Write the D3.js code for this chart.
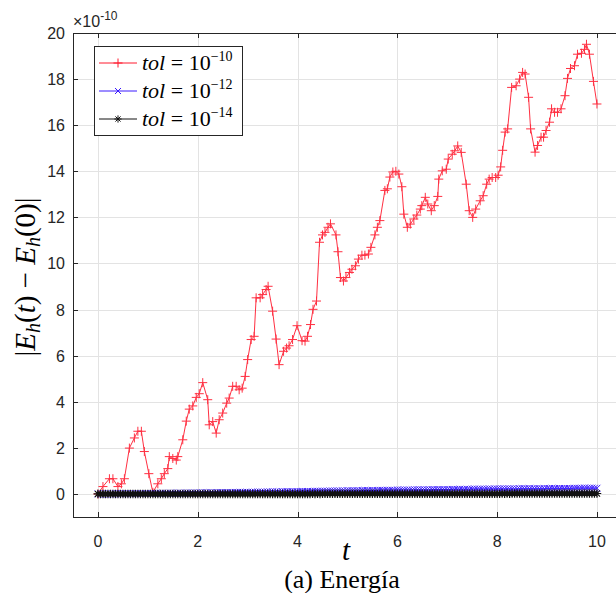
<!DOCTYPE html>
<html>
<head>
<meta charset="utf-8">
<script src="https://cdn.jsdelivr.net/npm/d3@7/dist/d3.min.js"></script>
<style>
  html, body { margin: 0; padding: 0; background: #fff; }
  svg { display: block; }
</style>
</head>
<body>
<div id="chart"></div>
<script>
// ---------------- DATA (values in units of 1e-10) ----------------
const xTicks = [0, 2, 4, 6, 8, 10];
const yTicks = [0, 2, 4, 6, 8, 10, 12, 14, 16, 18, 20];
const seriesNames = ["10^{-10}", "10^{-12}", "10^{-14}"];

// tol = 1e-10 (red, '+')
const tRed = [0,0.10,0.23,0.30,0.40,0.47,0.53,0.63,0.73,0.80,0.87,0.93,1.02,1.10,1.20,1.27,1.33,1.40,1.43,1.50,1.57,1.60,1.70,1.77,1.83,1.90,1.97,2.03,2.10,2.20,2.23,2.30,2.37,2.43,2.50,2.58,2.63,2.70,2.77,2.83,2.89,2.95,3.00,3.07,3.13,3.17,3.25,3.30,3.37,3.41,3.50,3.57,3.63,3.72,3.78,3.83,3.90,3.99,4.09,4.15,4.20,4.26,4.31,4.38,4.44,4.50,4.55,4.61,4.66,4.77,4.81,4.86,4.92,4.97,5.04,5.09,5.16,5.22,5.29,5.35,5.42,5.47,5.55,5.60,5.65,5.75,5.80,5.85,5.91,5.97,6.03,6.09,6.13,6.20,6.26,6.33,6.39,6.46,6.49,6.56,6.61,6.68,6.74,6.81,6.83,6.90,6.98,7.02,7.10,7.15,7.21,7.28,7.38,7.44,7.51,7.57,7.66,7.72,7.79,7.84,7.90,7.97,8.02,8.07,8.11,8.16,8.21,8.29,8.38,8.45,8.51,8.56,8.63,8.67,8.76,8.81,8.88,8.93,8.98,9.05,9.09,9.15,9.21,9.28,9.36,9.41,9.47,9.55,9.61,9.69,9.75,9.79,9.85,9.93,10.0];
const vRed = [0,0.32,0.66,0.66,0.32,0.44,0.66,1.99,2.43,2.72,2.72,1.84,0.88,0.07,0.44,0.66,0.88,1.10,1.62,1.54,1.47,1.62,2.35,3.16,3.68,3.82,4.19,4.35,4.83,4.09,3.00,3.14,2.64,3.22,3.51,3.94,4.16,4.67,4.67,4.52,4.59,5.10,5.83,6.70,6.84,8.51,8.51,8.65,8.87,9.01,7.93,6.72,5.61,6.19,6.33,6.43,6.70,7.30,6.65,6.63,6.84,7.35,8.01,8.37,10.92,11.24,11.35,11.57,11.72,11.24,10.51,9.39,9.24,9.39,9.61,9.75,9.90,10.19,10.36,10.36,10.41,10.70,11.24,11.57,11.86,13.17,13.24,13.75,13.97,14.00,13.88,13.33,12.14,11.57,11.71,11.93,12.10,12.36,12.51,12.87,12.58,12.29,12.51,12.91,13.66,14.02,14.09,14.53,14.74,14.89,15.10,14.82,13.44,12.29,12.00,12.36,12.72,12.94,13.44,13.66,13.73,13.73,13.83,14.19,14.91,15.70,15.84,17.64,17.71,18.00,18.29,18.22,17.21,15.84,14.83,15.12,15.48,15.48,15.77,16.13,16.71,16.56,16.56,16.71,17.28,18.03,18.46,18.58,19.08,19.12,19.29,19.51,19.08,17.90,16.92];

// time steps shared by tol = 1e-12 and tol = 1e-14
const tDense = [0,0.05,0.1,0.15,0.2,0.25,0.3,0.35,0.4,0.45,0.5,0.55,0.6,0.65,0.7,0.75,0.8,0.85,0.9,0.95,
1,1.05,1.1,1.15,1.2,1.25,1.3,1.35,1.4,1.45,1.5,1.55,1.6,1.65,1.7,1.75,1.8,1.85,1.9,1.95,
2,2.05,2.1,2.15,2.2,2.25,2.3,2.35,2.4,2.45,2.5,2.55,2.6,2.65,2.7,2.75,2.8,2.85,2.9,2.95,
3,3.05,3.1,3.15,3.2,3.25,3.3,3.35,3.4,3.45,3.5,3.55,3.6,3.65,3.7,3.75,3.8,3.85,3.9,3.95,
4,4.05,4.1,4.15,4.2,4.25,4.3,4.35,4.4,4.45,4.5,4.55,4.6,4.65,4.7,4.75,4.8,4.85,4.9,4.95,
5,5.05,5.1,5.15,5.2,5.25,5.3,5.35,5.4,5.45,5.5,5.55,5.6,5.65,5.7,5.75,5.8,5.85,5.9,5.95,
6,6.05,6.1,6.15,6.2,6.25,6.3,6.35,6.4,6.45,6.5,6.55,6.6,6.65,6.7,6.75,6.8,6.85,6.9,6.95,
7,7.05,7.1,7.15,7.2,7.25,7.3,7.35,7.4,7.45,7.5,7.55,7.6,7.65,7.7,7.75,7.8,7.85,7.9,7.95,
8,8.05,8.1,8.15,8.2,8.25,8.3,8.35,8.4,8.45,8.5,8.55,8.6,8.65,8.7,8.75,8.8,8.85,8.9,8.95,
9,9.05,9.1,9.15,9.2,9.25,9.3,9.35,9.4,9.45,9.5,9.55,9.6,9.65,9.7,9.75,9.8,9.85,9.9,9.95,10];

// tol = 1e-12 (blue, 'x')
const vBlue = [0,0,0,0,0,0,0,0.01,0.01,0.01,0.01,0.01,0.01,0.01,0.01,0.01,0.02,0.01,0.02,0.02,
0.02,0.02,0.02,0.02,0.02,0.03,0.03,0.03,0.03,0.03,0.03,0.03,0.03,0.04,0.03,0.04,0.04,0.04,0.04,0.04,
0.04,0.05,0.05,0.05,0.05,0.05,0.05,0.05,0.06,0.06,0.06,0.06,0.06,0.06,0.06,0.07,0.07,0.07,0.07,0.07,
0.07,0.07,0.08,0.08,0.08,0.08,0.08,0.08,0.09,0.09,0.09,0.09,0.09,0.09,0.10,0.10,0.10,0.10,0.10,0.10,
0.10,0.11,0.11,0.11,0.11,0.11,0.11,0.12,0.12,0.12,0.12,0.12,0.12,0.13,0.13,0.13,0.13,0.13,0.13,0.13,
0.14,0.14,0.14,0.14,0.14,0.14,0.15,0.15,0.15,0.15,0.15,0.15,0.15,0.16,0.16,0.16,0.16,0.16,0.16,0.16,
0.17,0.17,0.17,0.17,0.17,0.17,0.17,0.18,0.18,0.18,0.18,0.18,0.18,0.18,0.19,0.19,0.19,0.19,0.19,0.19,
0.19,0.19,0.20,0.20,0.20,0.20,0.20,0.20,0.20,0.20,0.21,0.21,0.21,0.21,0.21,0.21,0.21,0.21,0.21,0.22,
0.22,0.22,0.22,0.22,0.22,0.22,0.22,0.22,0.22,0.23,0.23,0.23,0.23,0.23,0.23,0.23,0.23,0.23,0.23,0.23,
0.24,0.24,0.24,0.24,0.24,0.24,0.24,0.24,0.24,0.24,0.24,0.25,0.25,0.25,0.25,0.25,0.25,0.25,0.25,0.25,0.25];

// tol = 1e-14 (black, '*')
const vBlack = [0,0,0,0,0,0,0,0,0,0,0,0,0,0,0,0,0,0,0,0,
0,0,0,0,0,0,0,0,0,0,0,0,0,0,0,0,0,0,0,0,
0,0,0,0,0,0,0,0,0,0,0,0,0,0,0,0,0,0,0,0,
0,0,0,0,0,0,0,0,0,0,0,0,0,0,0,0,0,0,0,0,
0,0,0,0,0,0,0.01,0,0.01,0,0.01,0.01,0.01,0.01,0.01,0.01,0.01,0.01,0.01,0.01,
0.01,0.01,0.01,0.01,0.01,0.01,0.01,0.01,0.01,0.01,0.01,0.01,0.01,0.01,0.01,0.01,0.01,0.01,0.01,0.01,
0.01,0.01,0.01,0.01,0.01,0.01,0.01,0.01,0.01,0.01,0.01,0.01,0.01,0.01,0.01,0.01,0.01,0.01,0.01,0.01,
0.01,0.01,0.01,0.01,0.01,0.01,0.01,0.01,0.01,0.01,0.01,0.01,0.01,0.01,0.01,0.01,0.01,0.01,0.01,0.01,
0.01,0.01,0.02,0.01,0.02,0.01,0.02,0.02,0.02,0.02,0.02,0.02,0.02,0.02,0.02,0.02,0.02,0.02,0.02,0.02,
0.02,0.02,0.02,0.02,0.02,0.02,0.02,0.02,0.02,0.02,0.02,0.02,0.02,0.02,0.02,0.02,0.02,0.02,0.02,0.02,0.02];

// ---------------- LAYOUT ----------------
const W = 616, H = 593;
const L = 73, T = 33, B = 517;
const x = d3.scaleLinear().domain([-0.5, 10.5]).range([L, L + 11 * 49.9]);
const y = d3.scaleLinear().domain([-1, 20]).range([B, T]);
const R = W + 10;
const axisColor = "#262626";
const tickFont = "'Liberation Sans', Arial, Helvetica, sans-serif";
const serif = "'Liberation Serif', 'DejaVu Serif', serif";

const svg = d3.select("#chart").append("svg")
  .attr("width", W).attr("height", H)
  .style("background", "#fff");

svg.append("defs").append("clipPath").attr("id", "plotclip")
  .append("rect").attr("x", L).attr("y", T).attr("width", R - L).attr("height", B - T);

// grid
const grid = svg.append("g").attr("stroke", "#e3e3e3").attr("stroke-width", 1);
xTicks.forEach(v => grid.append("line")
  .attr("x1", Math.round(x(v)) + 0.5).attr("x2", Math.round(x(v)) + 0.5)
  .attr("y1", T).attr("y2", B));
yTicks.forEach(v => grid.append("line")
  .attr("y1", Math.round(y(v)) + 0.5).attr("y2", Math.round(y(v)) + 0.5)
  .attr("x1", L).attr("x2", R));

// marker generators
const plus = (px, py, s) => `M${px - s},${py}H${px + s}M${px},${py - s}V${py + s}`;
const cross = (px, py, s) => `M${px - s},${py - s}L${px + s},${py + s}M${px - s},${py + s}L${px + s},${py - s}`;
const star = (px, py, s) => plus(px, py, s) + cross(px, py, s * 0.72);

const plot = svg.append("g").attr("clip-path", "url(#plotclip)");
const line = d3.line().x(d => x(d[0])).y(d => y(d[1]));

function drawSeries(ts, vs, color, markerFn, size, lw, op) {
  const pts = ts.map((t, i) => [t, vs[i]]);
  const g = plot.append("g").attr("opacity", op);
  g.append("path").datum(pts)
    .attr("d", line).attr("fill", "none")
    .attr("stroke", color).attr("stroke-width", lw);
  g.append("path")
    .attr("d", pts.map(p => markerFn(x(p[0]), y(p[1]), size)).join(""))
    .attr("fill", "none").attr("stroke", color).attr("stroke-width", lw);
}

drawSeries(tRed, vRed, "#ff1a2e", plus, 4.5, 1, 0.9);
drawSeries(tDense, vBlue, "#3a1aff", cross, 3.4, 1, 1);
drawSeries(tDense, vBlack, "#111", star, 4.3, 1.2, 1);

// axes box
const ax = svg.append("g").attr("stroke", axisColor).attr("stroke-width", 1).attr("fill", "none");
ax.append("line").attr("x1", L + 0.5).attr("x2", L + 0.5).attr("y1", T).attr("y2", B + 0.5);
ax.append("line").attr("x1", L).attr("x2", R).attr("y1", B + 0.5).attr("y2", B + 0.5);
ax.append("line").attr("x1", L).attr("x2", R).attr("y1", T + 0.5).attr("y2", T + 0.5);

// ticks (inward)
const tl = 5;
xTicks.forEach(v => {
  const px = Math.round(x(v)) + 0.5;
  ax.append("line").attr("x1", px).attr("x2", px).attr("y1", B).attr("y2", B - tl);
  ax.append("line").attr("x1", px).attr("x2", px).attr("y1", T).attr("y2", T + tl);
});
yTicks.forEach(v => {
  const py = Math.round(y(v)) + 0.5;
  ax.append("line").attr("x1", L).attr("x2", L + tl).attr("y1", py).attr("y2", py);
});

// tick labels
const xl = svg.append("g").attr("font-family", tickFont).attr("font-size", 16).attr("fill", axisColor);
xTicks.forEach(v => xl.append("text").attr("x", x(v)).attr("y", 547)
  .attr("text-anchor", "middle").text(v));
yTicks.forEach(v => xl.append("text").attr("x", 65).attr("y", y(v) + 6)
  .attr("text-anchor", "end").text(v));

// exponent label
const ex = svg.append("text").attr("x", 73).attr("y", 27)
  .attr("font-family", tickFont).attr("font-size", 16).attr("fill", axisColor);
ex.append("tspan").text("×10");
ex.append("tspan").attr("font-size", 12).attr("dy", -7).text("-10");

// axis labels
svg.append("text").attr("x", 346).attr("y", 560)
  .attr("font-family", serif).attr("font-style", "italic").attr("font-size", 29)
  .attr("text-anchor", "middle").attr("fill", "#000").text("t");

svg.append("text").attr("x", 342).attr("y", 588)
  .attr("font-family", serif).attr("font-size", 26)
  .attr("text-anchor", "middle").attr("fill", "#000").text("(a) Energía");

const yl = svg.append("text")
  .attr("transform", "translate(35,277) rotate(-90)")
  .attr("font-family", serif).attr("font-size", 29)
  .attr("text-anchor", "middle").attr("fill", "#000");
yl.append("tspan").text("|");
yl.append("tspan").attr("font-style", "italic").text("E");
yl.append("tspan").attr("font-style", "italic").attr("font-size", 20).attr("dy", 5).text("h");
yl.append("tspan").attr("dy", -5).text("(");
yl.append("tspan").attr("font-style", "italic").text("t");
yl.append("tspan").text(") − ");
yl.append("tspan").attr("font-style", "italic").text("E");
yl.append("tspan").attr("font-style", "italic").attr("font-size", 20).attr("dy", 5).text("h");
yl.append("tspan").attr("dy", -5).text("(0)|");

// legend
const lg = svg.append("g");
lg.append("rect").attr("x", 94.5).attr("y", 46.5).attr("width", 148).attr("height", 89)
  .attr("fill", "#fff").attr("stroke", axisColor).attr("stroke-width", 1);
const legendItems = [
  { color: "#ff1a2e", fn: plus, size: 4.5 },
  { color: "#3a1aff", fn: cross, size: 3 },
  { color: "#111", fn: star, size: 3.6 }
];
legendItems.forEach((it, i) => {
  const cy = 63 + i * 28;
  lg.append("line").attr("x1", 99).attr("x2", 137).attr("y1", cy).attr("y2", cy)
    .attr("stroke", it.color).attr("stroke-width", 1);
  lg.append("path").attr("d", it.fn(118, cy, it.size))
    .attr("fill", "none").attr("stroke", it.color).attr("stroke-width", 1);
  const txt = lg.append("text").attr("x", 142).attr("y", cy + 7)
    .attr("font-family", serif).attr("font-size", 22).attr("fill", "#000");
  txt.append("tspan").attr("font-style", "italic").text("tol");
  txt.append("tspan").text(" = 10");
  const exp = seriesNames[i].match(/\{(.*)\}/)[1].replace("-", "−");
  txt.append("tspan").attr("font-size", 14).attr("dy", -9).text(exp);
});
</script>
</body>
</html>
